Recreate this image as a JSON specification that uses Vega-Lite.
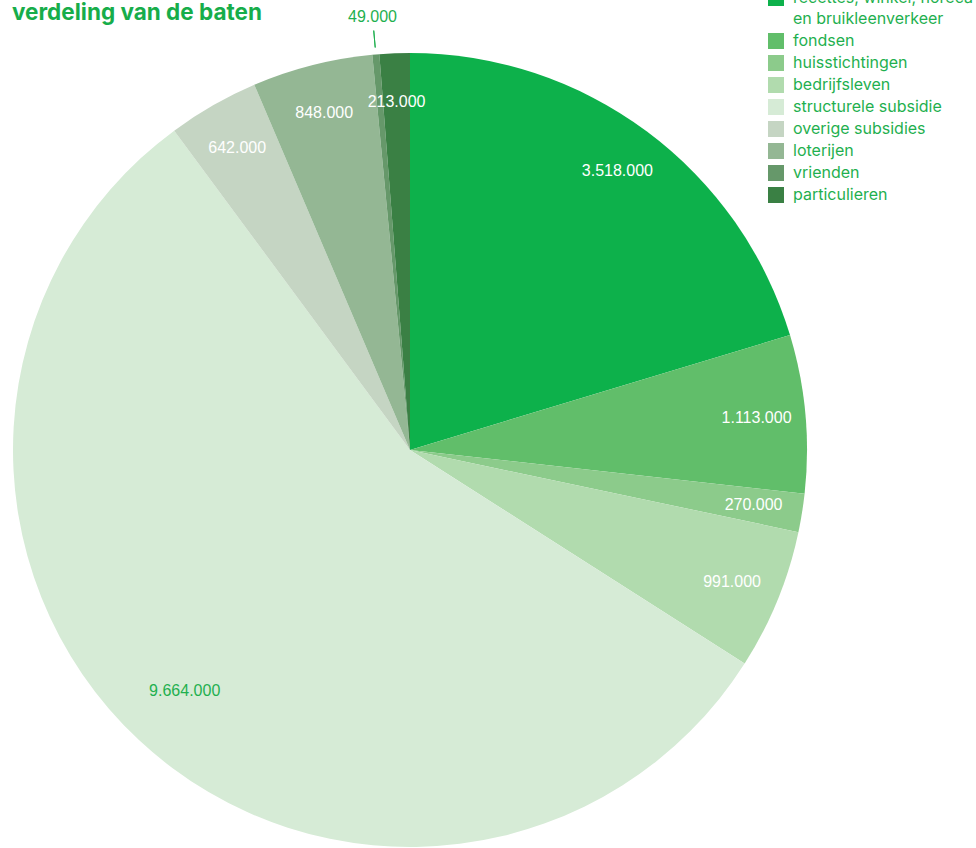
{
  "$schema": "https://vega.github.io/schema/vega-lite/v6.json",
  "width": 820,
  "height": 796,
  "autosize": {"type": "none"},
  "padding": {"left": 0, "top": 52, "right": 156, "bottom": 0},
  "background": "white",
  "title": {
    "text": "verdeling van de baten",
    "anchor": "start",
    "frame": "group",
    "dx": 12,
    "offset": -52,
    "baseline": "alphabetic",
    "font": "Inter",
    "fontSize": 22.5,
    "fontWeight": "bold",
    "color": "#17ad4a"
  },
  "config": {
    "view": {"stroke": null},
    "style": {"guide-label": {"lineHeight": 21}},
    "locale": {"number": {"decimal": ",", "thousands": ".", "grouping": [3], "currency": ["€", ""]}}
  },
  "data": {
    "values": [
      {"cat": "recettes, winkel, horeca en bruikleenverkeer", "value": 3518000, "order": 1},
      {"cat": "fondsen", "value": 1113000, "order": 2},
      {"cat": "huisstichtingen", "value": 270000, "order": 3},
      {"cat": "bedrijfsleven", "value": 991000, "order": 4},
      {"cat": "structurele subsidie", "value": 9664000, "order": 5},
      {"cat": "overige subsidies", "value": 642000, "order": 6},
      {"cat": "loterijen", "value": 848000, "order": 7},
      {"cat": "vrienden", "value": 49000, "order": 8},
      {"cat": "particulieren", "value": 213000, "order": 9}
    ]
  },
  "layer": [
    {
      "mark": {"type": "arc", "outerRadius": 397, "stroke": null},
      "encoding": {
        "theta": {"field": "value", "type": "quantitative", "stack": true},
        "order": {"field": "order", "type": "quantitative"},
        "color": {
          "field": "cat",
          "type": "nominal",
          "sort": null,
          "scale": {
            "domain": ["recettes, winkel, horeca en bruikleenverkeer", "fondsen", "huisstichtingen", "bedrijfsleven", "structurele subsidie", "overige subsidies", "loterijen", "vrienden", "particulieren"],
            "range": ["#0db14b", "#61be6a", "#8ccb8b", "#b1dbae", "#d6ebd6", "#c5d5c3", "#94b794", "#66986a", "#3a8044"]
          },
          "legend": {
            "title": null,
            "orient": "none",
            "legendX": 768,
            "legendY": -62,
            "padding": 0,
            "symbolType": "square",
            "symbolSize": 256,
            "symbolStrokeWidth": 0,
            "labelFont": "Inter",
            "labelFontSize": 16,
            "labelColor": "#1fb04f",
            "labelOffset": 9,
            "labelLimit": 400,
            "rowPadding": 6,
            "labelExpr": "datum.label == 'recettes, winkel, horeca en bruikleenverkeer' ? ['recettes, winkel, horeca', 'en bruikleenverkeer'] : datum.label"
          }
        }
      }
    },
    {
      "mark": {"type": "text", "radius": 348, "font": "Liberation Sans", "fontSize": 16, "fill": "white"},
      "encoding": {
        "theta": {"field": "value", "type": "quantitative", "stack": true},
        "order": {"field": "order", "type": "quantitative"},
        "text": {"field": "value", "type": "quantitative", "format": ",d"},
        "opacity": {"condition": {"test": "datum.cat === 'structurele subsidie' || datum.cat === 'vrienden'", "value": 0}, "value": 1}
      }
    },
    {
      "mark": {"type": "text", "radius": 330, "font": "Liberation Sans", "fontSize": 16, "fill": "#1fb04f"},
      "encoding": {
        "theta": {"field": "value", "type": "quantitative", "stack": true},
        "order": {"field": "order", "type": "quantitative"},
        "text": {"field": "value", "type": "quantitative", "format": ",d"},
        "opacity": {"condition": {"test": "datum.cat === 'structurele subsidie'", "value": 1}, "value": 0}
      }
    },
    {
      "mark": {"type": "text", "radius": 435, "font": "Liberation Sans", "fontSize": 16, "fill": "#1fb04f"},
      "encoding": {
        "theta": {"field": "value", "type": "quantitative", "stack": true},
        "order": {"field": "order", "type": "quantitative"},
        "text": {"field": "value", "type": "quantitative", "format": ",d"},
        "opacity": {"condition": {"test": "datum.cat === 'vrienden'", "value": 1}, "value": 0}
      }
    },
    {
      "mark": {"type": "arc", "innerRadius": 404, "outerRadius": 421, "padAngle": 0.1, "filled": false, "stroke": "#1fb04f", "strokeWidth": 1},
      "encoding": {
        "theta": {"field": "value", "type": "quantitative", "stack": true},
        "order": {"field": "order", "type": "quantitative"},
        "strokeOpacity": {"condition": {"test": "datum.cat === 'vrienden'", "value": 1}, "value": 0}
      }
    }
  ]
}
